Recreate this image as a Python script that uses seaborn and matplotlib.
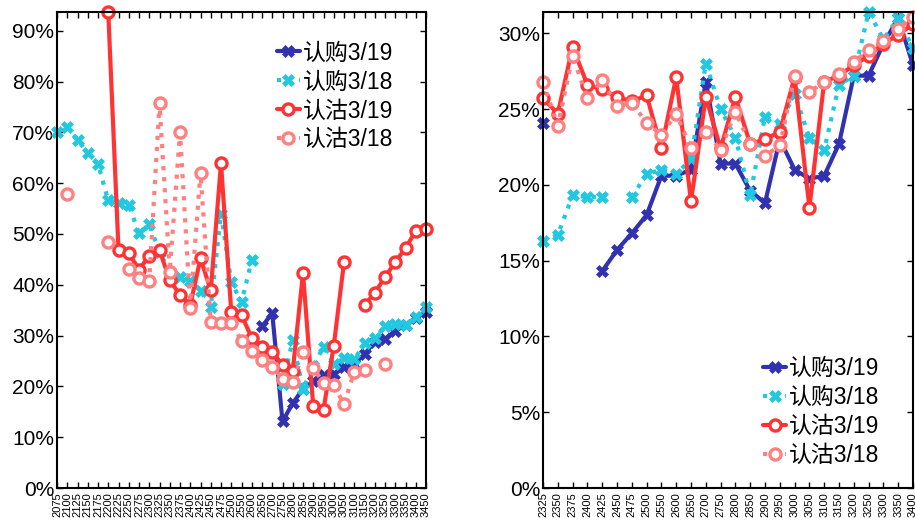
import numpy as np
import pandas as pd
import matplotlib
matplotlib.use('Agg')
import matplotlib.pyplot as plt
import seaborn as sns
from matplotlib.lines import Line2D
from matplotlib.ticker import PercentFormatter

nan = np.nan

# 左图: 行权价
left_strikes = ['2075', '2100', '2125', '2150', '2175', '2200', '2225', '2250', '2275', '2300',
                '2325', '2350', '2375', '2400', '2425', '2450', '2475', '2500', '2550', '2600',
                '2650', '2700', '2750', '2800', '2850', '2900', '2950', '3000', '3050', '3100',
                '3150', '3200', '3250', '3300', '3350', '3400', '3450']

left_call_319 = [nan, nan, nan, nan, nan, nan, nan, nan, nan, nan,
                 nan, nan, nan, nan, nan, nan, nan, nan, nan, nan,
                 31.8, 34.4, 13.1, 16.7, 19.5, 21.0, 22.2, 22.5, 23.8, 24.5,
                 26.3, 28.8, 29.3, 31.0, 32.0, 33.5, 34.6]
left_call_318 = [70.0, 71.1, 68.5, 66.0, 63.8, 56.6, 56.2, 55.7, 50.1, 51.9,
                 46.5, 42.5, 41.5, 40.8, 38.8, 35.7, 54.0, 40.5, 36.6, 44.8,
                 nan, nan, 20.5, 29.1, 19.5, 24.0, 27.8, 24.5, 25.5, 25.3,
                 28.5, 29.5, 31.8, 32.2, 32.1, 33.6, 35.7]
left_put_319 = [nan, nan, nan, nan, nan, 93.7, 46.9, 46.2, 43.0, 45.7,
                46.8, 40.9, 38.0, 36.0, 45.2, 38.9, 63.9, 34.7, 34.1, 29.5,
                27.7, 26.8, 24.2, 23.1, 42.3, 16.1, 15.4, 28.0, 44.4, nan,
                36.0, 38.4, 41.5, 44.5, 47.2, 50.6, 51.0]
left_put_318 = [nan, 57.9, nan, nan, nan, 48.4, nan, 43.2, 41.3, 40.8,
                75.7, 42.6, 70.0, 35.5, 62.1, 32.7, 32.4, 32.5, 29.0, 26.9,
                25.1, 23.9, 21.5, 20.8, 26.8, 23.6, 20.7, 20.2, 16.5, 22.9,
                23.2, nan, 24.5, nan, nan, nan, nan]

# 右图
right_strikes = ['2325', '2350', '2375', '2400', '2425', '2450', '2475', '2500', '2550', '2600',
                 '2650', '2700', '2750', '2800', '2850', '2900', '2950', '3000', '3050', '3100',
                 '3150', '3200', '3250', '3300', '3350', '3400']

right_call_319 = [24.1, nan, nan, nan, 14.3, 15.7, 16.8, 18.0, 20.6, 20.6,
                  21.0, 26.8, 21.4, 21.4, 19.6, 18.8, 23.0, 21.0, 20.4, 20.6,
                  22.7, 27.2, 27.2, 29.3, 31.0, 27.9]
right_call_318 = [16.3, 16.7, 19.3, 19.2, 19.2, nan, 19.2, 20.7, 21.0, 20.7,
                  21.7, 28.0, 25.0, 23.1, 19.3, 24.5, 24.0, 26.0, 23.1, 22.3,
                  26.6, 27.2, 31.4, 29.6, 31.0, 29.0]
right_put_319 = [25.7, 24.7, 29.1, 26.6, 26.3, 25.8, 25.5, 25.9, 22.4, 27.1,
                 18.9, 25.8, 22.4, 25.8, 22.7, 23.0, 23.5, 27.1, 18.5, 26.8,
                 27.2, 27.9, 28.5, 29.3, 29.9, 30.6]
right_put_318 = [26.8, 23.9, 28.5, 25.7, 26.9, 25.2, 25.4, 24.1, 23.3, 24.7,
                 22.4, 23.5, 22.3, 24.8, 22.7, 21.9, 22.6, 27.2, 26.1, 26.8,
                 27.3, 28.1, 28.9, 29.5, 30.3, 31.1]

labels = ['认购3/19', '认购3/18', '认沽3/19', '认沽3/18']

styles = [
    dict(color='#3232b0', ls='-', marker='X', ms=8, mfc='#3232b0', mec='#3232b0', mew=0.5),
    dict(color='#22c8e0', ls=':', marker='X', ms=8, mfc='#22c8e0', mec='#22c8e0', mew=0.5),
    dict(color='#ff3333', ls='-', marker='o', ms=8, mfc='white', mec='#ff3333', mew=2.4),
    dict(color='#ff8080', ls=':', marker='o', ms=8, mfc='white', mec='#ff8080', mew=2.4),
]


def to_segments(vals):
    # 缺失值处断开折线
    v = np.array(vals, dtype=float)
    ok = ~np.isnan(v)
    seg = np.cumsum(~ok)
    return pd.DataFrame({'pos': np.arange(len(v))[ok], 'val': v[ok], 'seg': seg[ok]})


sns.set_style('ticks')
plt.rcParams['font.family'] = ['Liberation Sans', 'Noto Sans CJK SC']
plt.rcParams['text.color'] = 'black'
plt.rcParams['xtick.color'] = 'black'
plt.rcParams['ytick.color'] = 'black'

fig = plt.figure(figsize=(9.15, 5.24), dpi=100)
ax1 = fig.add_axes([57 / 915, 36 / 524, 369 / 915, 476 / 524])
ax2 = fig.add_axes([543 / 915, 36 / 524, 370 / 915, 476 / 524])

panels = [
    (ax1, left_strikes, [left_call_319, left_call_318, left_put_319, left_put_318], 93.7, 10),
    (ax2, right_strikes, [right_call_319, right_call_318, right_put_319, right_put_318], 31.4, 5),
]

for ax, strikes, series, ytop, ystep in panels:
    for vals, st in zip(series, styles):
        df = to_segments(vals)
        sns.lineplot(data=df, x='pos', y='val', units='seg', estimator=None, ax=ax,
                     legend=False, lw=3, clip_on=False, **st)
    ax.set_xlim(0, len(strikes) - 1)
    ax.set_ylim(0, ytop)
    ax.set_xticks(range(len(strikes)))
    ax.set_xticklabels(strikes, rotation=90, fontsize=8)
    ax.set_yticks(np.arange(0, ytop, ystep))
    ax.yaxis.set_major_formatter(PercentFormatter(100, decimals=0))
    ax.tick_params(axis='y', labelsize=15, pad=2)
    ax.tick_params(direction='in', length=4, width=1, top=True, right=True,
                   color='black', labelcolor='black')
    ax.tick_params(axis='x', pad=3)
    ax.set_xlabel('')
    ax.set_ylabel('')
    for sp in ax.spines.values():
        sp.set_visible(True)
        sp.set_linewidth(1.5)
        sp.set_color('black')

handles = [Line2D([], [], lw=3, **st) for st in styles]
leg_kw = dict(frameon=False, fontsize=16.5, handlelength=1.0, handletextpad=0.12,
              labelspacing=0.26, borderpad=0, borderaxespad=0, loc='upper left',
              labelcolor='black')
ax1.legend(handles, labels, bbox_to_anchor=(0.596, 0.938), **leg_kw)
ax2.legend(handles, labels, bbox_to_anchor=(0.595, 0.275), **leg_kw)

fig.savefig('out.png', dpi=100)
